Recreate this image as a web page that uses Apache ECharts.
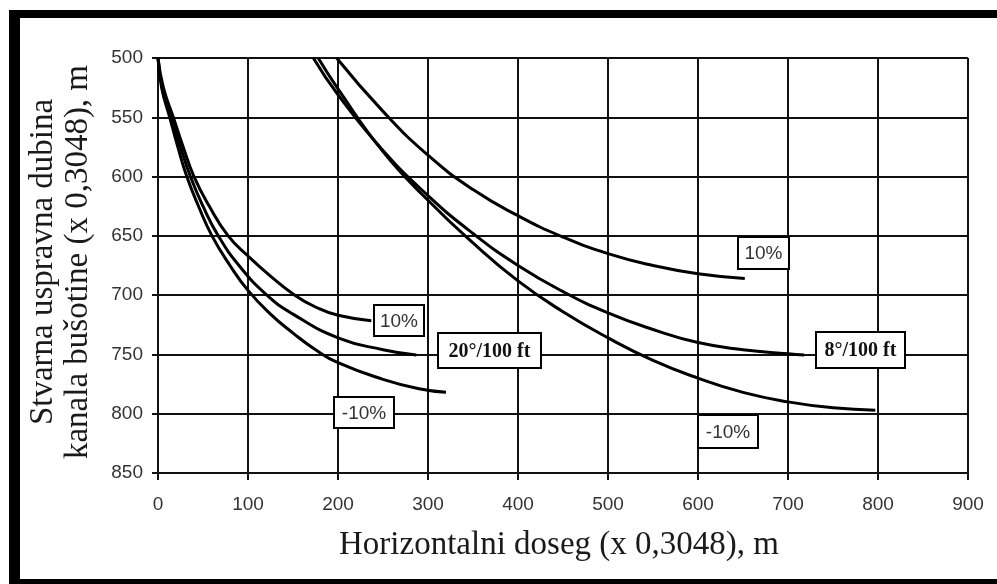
<!DOCTYPE html>
<html>
<head>
<meta charset="utf-8">
<script src="https://cdn.jsdelivr.net/npm/echarts@6/dist/echarts.min.js"></script>
<style>
html,body{margin:0;padding:0;background:#fff;}
#chart{width:997px;height:584px;}
</style>
</head>
<body>
<div id="chart"></div>
<script>
// ---- data ----
const xTickValues = [0, 100, 200, 300, 400, 500, 600, 700, 800, 900];
const yTickValues = [500, 550, 600, 650, 700, 750, 800, 850];

// 20°/100 ft group
const b20p10X = [0, 6, 17, 28, 40, 57, 78, 100, 125, 152, 175, 200, 237];
const b20p10Y = [500, 525, 550, 575, 600, 625, 650, 667, 684, 700, 710, 717, 721.5];
const b20X = [0, 5, 15, 25, 36, 50, 67, 90, 121, 150, 200, 250, 287];
const b20Y = [500, 525, 550, 575, 600, 625, 650, 675, 700, 716, 736, 746, 750.5];
const b20m10X = [0, 4, 13, 22, 32, 45, 60, 80, 100, 125, 150, 175, 200, 250, 290, 320];
const b20m10Y = [500, 525, 550, 575, 600, 625, 650, 675, 696, 716, 732, 746, 757, 771, 779, 782];

// 8°/100 ft group
const b8p10X = [198.5, 250, 300, 350, 400, 450, 500, 550, 600, 652];
const b8p10Y = [500, 545, 582, 611, 633, 651, 665, 675, 682, 686];
const b8X = [172.6, 200, 250, 300, 350, 400, 450, 500, 550, 600, 650, 700, 718];
const b8Y = [500, 531, 578, 616, 648, 675, 697, 715, 729, 740, 746, 749.5, 750.5];
const b8m10X = [178, 200, 250, 300, 350, 400, 450, 500, 550, 600, 650, 700, 750, 797];
const b8m10Y = [500, 526, 579, 620, 656, 688, 714, 736, 755, 770, 782, 790, 795, 797];

const labelTexts = ['10%', '20°/100 ft', '-10%', '10%', '8°/100 ft', '-10%'];

const xTitle = 'Horizontalni doseg (x 0,3048), m';
const yTitle1 = 'Stvarna uspravna dubina';
const yTitle2 = 'kanala bušotine (x 0,3048), m';

// ---- build ----
function pairs(xs, ys) { return xs.map((x, i) => [x, ys[i]]); }
const curves = [
  pairs(b20p10X, b20p10Y), pairs(b20X, b20Y), pairs(b20m10X, b20m10Y),
  pairs(b8p10X, b8p10Y), pairs(b8X, b8Y), pairs(b8m10X, b8m10Y)
];

const chart = echarts.init(document.getElementById('chart'), null, {renderer: 'canvas'});

const sansFont = '"Liberation Sans", Arial, sans-serif';
const serifFont = '"Liberation Serif", "Times New Roman", serif';

// label boxes: [x, y, w, h, bold-serif?]
const boxes = [
  [374, 305, 50, 31, false],
  [438, 333, 103, 35, true],
  [334, 397, 60, 31, false],
  [738, 237, 51, 32, false],
  [816, 332, 89, 36, true],
  [698, 415, 60, 33, false]
];

const graphics = [];
// outer frame bars
graphics.push({type: 'rect', shape: {x: 9, y: 10, width: 11, height: 574}, style: {fill: '#000'}, z: 100});
graphics.push({type: 'rect', shape: {x: 9, y: 10, width: 988, height: 8}, style: {fill: '#000'}, z: 100});
graphics.push({type: 'rect', shape: {x: 9, y: 579, width: 988, height: 5}, style: {fill: '#000'}, z: 100});

boxes.forEach((b, i) => {
  graphics.push({
    type: 'rect', z: 50,
    shape: {x: b[0], y: b[1], width: b[2], height: b[3]},
    style: {fill: '#fff', stroke: '#000', lineWidth: 2}
  });
  graphics.push({
    type: 'text', z: 51,
    x: b[0] + b[2] / 2, y: b[1] + b[3] / 2 + 1,
    style: {
      text: labelTexts[i],
      font: b[4] ? ('bold 20px ' + serifFont) : ('19px ' + sansFont),
      fill: b[4] ? '#111' : '#333',
      align: 'center', verticalAlign: 'middle'
    }
  });
});

// axis titles
graphics.push({
  type: 'text', z: 20, x: 559, y: 545,
  style: {text: xTitle, font: '33px ' + serifFont, fill: '#1a1a1a', align: 'center', verticalAlign: 'middle'}
});
graphics.push({
  type: 'text', z: 20, x: 43, y: 262, rotation: Math.PI / 2,
  style: {text: yTitle1, font: '33px ' + serifFont, fill: '#1a1a1a', align: 'center', verticalAlign: 'middle'}
});
graphics.push({
  type: 'text', z: 20, x: 78, y: 262, rotation: Math.PI / 2,
  style: {text: yTitle2, font: '33px ' + serifFont, fill: '#1a1a1a', align: 'center', verticalAlign: 'middle'}
});

const option = {
  backgroundColor: '#fff',
  animation: false,
  grid: {left: 158, right: 29, top: 58, bottom: 111, containLabel: false},
  xAxis: {
    type: 'value', min: xTickValues[0], max: xTickValues[xTickValues.length - 1], interval: 100,
    axisLine: {show: true, onZero: false, lineStyle: {color: '#111', width: 2}},
    axisTick: {show: true, inside: false, length: 7, lineStyle: {color: '#111', width: 2}},
    axisLabel: {margin: 22, color: '#333', fontFamily: sansFont, fontSize: 19},
    splitLine: {show: true, lineStyle: {color: '#111', width: 2}}
  },
  yAxis: {
    type: 'value', inverse: true, min: yTickValues[0], max: yTickValues[yTickValues.length - 1], interval: 50,
    axisLine: {show: true, onZero: false, lineStyle: {color: '#111', width: 2}},
    axisTick: {show: true, inside: false, length: 6, lineStyle: {color: '#111', width: 2}},
    axisLabel: {margin: 15, color: '#333', fontFamily: sansFont, fontSize: 19},
    splitLine: {show: true, lineStyle: {color: '#111', width: 2}}
  },
  series: curves.map(d => ({
    type: 'line', data: d, showSymbol: false, symbol: 'none',
    smooth: 0.5,
    lineStyle: {color: '#000', width: 3}, z: 10
  })),
  graphic: graphics
};
chart.setOption(option);
</script>
</body>
</html>
